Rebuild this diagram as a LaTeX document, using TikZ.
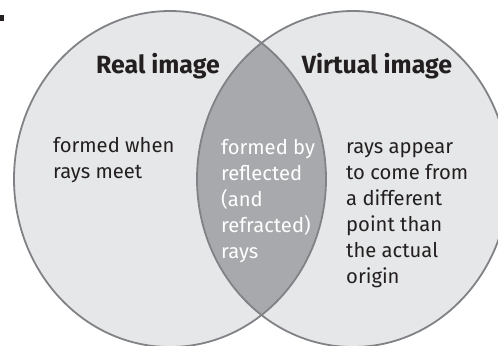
\documentclass[tikz,border=0pt]{standalone}
\usepackage{fontspec}
\setmainfont{Fira Sans}
\definecolor{grigioChiaro}{HTML}{E6E7E8}
\definecolor{grigioScuro}{HTML}{A7A9AC}
\definecolor{bordo}{HTML}{808285}
\definecolor{testo}{HTML}{231F20}

\begin{document}
\begin{tikzpicture}[x=1bp, y=1bp,
    titolo/.style={font=\bfseries\fontsize{25}{28}\selectfont, text=testo, anchor=base},
    voce/.style={font=\fontsize{20.3}{26}\selectfont, text=testo, align=left, anchor=base west, inner sep=0pt}]
    \useasboundingbox (0,0) rectangle (498,345);
    % Centri degli insiemi
    \coordinate (reale) at (170,166);
    \coordinate (virtuale) at (353,166);

    % Insiemi
    \fill[grigioChiaro] (reale) ellipse [x radius=156, y radius=168];
    \fill[grigioChiaro] (virtuale) ellipse [x radius=156, y radius=168];

    % Intersezione
    \begin{scope}
        \clip (reale) ellipse [x radius=156, y radius=168];
        \fill[grigioScuro] (virtuale) ellipse [x radius=156, y radius=168];
    \end{scope}
    \draw[bordo, line width=1.8bp] (reale) ellipse [x radius=156, y radius=168];
    \draw[bordo, line width=1.8bp] (virtuale) ellipse [x radius=156, y radius=168];

    % Segno in alto a sinistra
    \fill[testo] (0,324) rectangle (4,330);

    % Titoli
    \node[titolo] (tit_reale) at (158,272) {Real image};
    \node[titolo] (tit_virtuale) at (377,272) {Virtual image};

    % Testi (ancorati all'ultima riga)
    \node[voce] (txt_reale) at (53,167) {formed when\\rays meet};
    \node[voce, text=white] (txt_comune) at (221,87) {formed by\\reflected\\(and\\refracted)\\rays};
    \node[voce] (txt_virtuale) at (346,62) {rays appear\\to come from\\a different\\point than\\the actual\\origin};
\end{tikzpicture}
\end{document}
